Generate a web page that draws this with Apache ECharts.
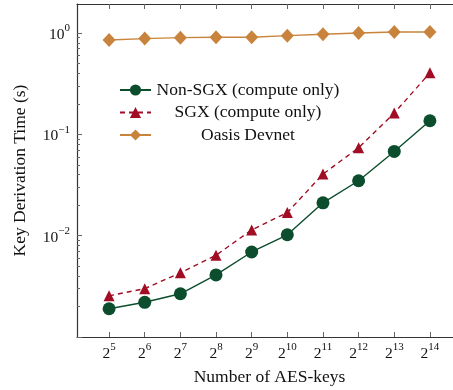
<!DOCTYPE html>
<html>
<head>
<meta charset="utf-8">
<script src="https://cdn.jsdelivr.net/npm/echarts@6/dist/echarts.min.js"></script>
<style>
  html, body { margin: 0; padding: 0; background: #fff; }
  #chart { width: 453px; height: 390px; }
</style>
</head>
<body>
<div id="chart"></div>
<script>
// x = log2(number of AES keys)
const exponents = [5, 6, 7, 8, 9, 10, 11, 12, 13, 14];
const nonSgx = [0.0019, 0.0022, 0.00267, 0.0041, 0.0069, 0.0102, 0.0211, 0.0348, 0.0677, 0.136];
const sgx = [0.00255, 0.003, 0.0043, 0.0064, 0.0114, 0.0169, 0.0405, 0.0736, 0.162, 0.404];
const oasis = [0.853, 0.879, 0.899, 0.906, 0.906, 0.94, 0.97, 1.0, 1.02, 1.02];
const yMajor = [0.001, 0.01, 0.1, 1];
const yLabels = [0.01, 0.1, 1];

const FONT = "Liberation Serif";
const AXIS = "#333";
const TICK = "#666";

const yMinor = [];
for (const d of [0.001, 0.01, 0.1, 1]) {
  for (let m = 2; m <= 9; m++) {
    const v = +(m * d).toPrecision(3);
    if (v < 1.93) yMinor.push(v);
  }
}

const sup = (base, p) => "{b|" + base + "}{s|" + p + "}";
const rich = {
  b: { fontFamily: FONT, fontSize: 15.5, color: "#111", lineHeight: 20, verticalAlign: "bottom" },
  s: { fontFamily: FONT, fontSize: 11, color: "#111", lineHeight: 20, verticalAlign: "top", padding: [0, 0, 6, 0] }
};

const chart = echarts.init(document.getElementById("chart"));
const xCommon = {
  type: "value", min: 4.1, max: 14.9, gridIndex: 0,
  splitLine: { show: false }
};
const yCommon = {
  type: "log", logBase: 10, min: 0.001, max: 1.93, gridIndex: 0,
  splitLine: { show: false }, minorTick: { show: false }
};

chart.setOption({
  animation: false,
  grid: { left: 77, top: 4, width: 385, height: 333, containLabel: false, outerBoundsMode: "none" },
  xAxis: [
    Object.assign({}, xCommon, {
      position: "bottom",
      name: "Number of AES-keys",
      nameLocation: "middle",
      nameGap: 31,
      nameTextStyle: { fontFamily: FONT, fontSize: 17.5, color: "#111" },
      axisLine: { show: true, lineStyle: { color: AXIS, width: 1.2 } },
      axisTick: { show: true, inside: true, length: 5, customValues: exponents, lineStyle: { color: TICK } },
      axisLabel: { margin: 5, customValues: exponents, formatter: v => sup(2, v), rich: rich }
    }),
    Object.assign({}, xCommon, {
      position: "top",
      axisLine: { show: true, lineStyle: { color: AXIS, width: 1.2 } },
      axisTick: { show: true, inside: true, length: 5, customValues: exponents, lineStyle: { color: TICK } },
      axisLabel: { show: false }
    })
  ],
  yAxis: [
    Object.assign({}, yCommon, {
      position: "left",
      name: "Key Derivation Time (s)",
      nameLocation: "middle",
      nameGap: 48,
      nameTextStyle: { fontFamily: FONT, fontSize: 17.5, color: "#111" },
      axisLine: { show: true, lineStyle: { color: AXIS, width: 1.2 } },
      axisTick: { show: true, inside: true, length: 5, customValues: yMajor, lineStyle: { color: TICK } },
      axisLabel: {
        margin: 7, customValues: yLabels,
        formatter: v => sup(10, String(Math.round(Math.log10(v))).replace("-", "\u2212")),
        rich: rich
      }
    }),
    Object.assign({}, yCommon, {
      position: "left",
      axisLine: { show: false },
      axisTick: { show: true, inside: true, length: 3, customValues: yMinor, lineStyle: { color: TICK } },
      axisLabel: { show: false }
    })
  ],
  legend: {
    orient: "vertical",
    left: 114, top: 76,
    itemWidth: 31, itemHeight: 14, itemGap: 4.5,
    formatter: name => "{t|" + name + "}",
    textStyle: {
      fontFamily: FONT, fontSize: 17.5, color: "#111",
      rich: { t: { fontFamily: FONT, fontSize: 17.5, lineHeight: 18, color: "#111", width: 184, align: "center" } }
    },
    data: ["Non-SGX (compute only)", "SGX (compute only)", "Oasis Devnet"]
  },
  series: [
    {
      name: "Non-SGX (compute only)", type: "line",
      data: exponents.map((e, i) => [e, nonSgx[i]]),
      symbol: "circle", symbolSize: 13,
      itemStyle: { color: "#0b4d2c" },
      lineStyle: { color: "#0b4d2c", width: 1.4 }
    },
    {
      name: "SGX (compute only)", type: "line",
      data: exponents.map((e, i) => [e, sgx[i]]),
      symbol: "triangle", symbolSize: [11, 11],
      itemStyle: { color: "#a00d24" },
      lineStyle: { color: "#a00d24", width: 1.4, type: [5, 4] }
    },
    {
      name: "Oasis Devnet", type: "line",
      data: exponents.map((e, i) => [e, oasis[i]]),
      symbol: "diamond", symbolSize: [13, 14],
      itemStyle: { color: "#c8843c" },
      lineStyle: { color: "#c8843c", width: 1.4 }
    }
  ]
});
</script>
</body>
</html>
